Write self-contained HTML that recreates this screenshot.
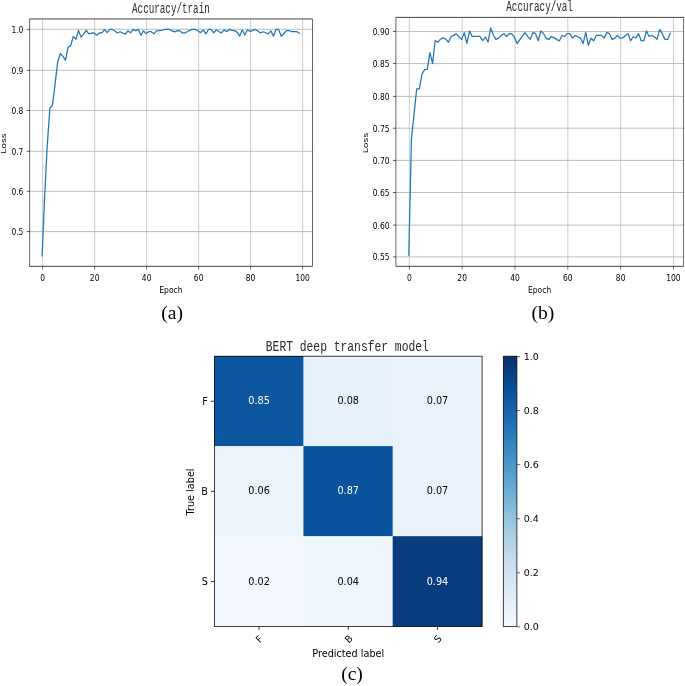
<!DOCTYPE html>
<html lang="en">
<head>
<meta charset="utf-8">
<title>Accuracy curves and BERT deep transfer model confusion matrix</title>
<style>
html,body{margin:0;padding:0;background:#fff;}
body{width:685px;height:686px;overflow:hidden;}
svg{display:block;}
.dv{font-family:"DejaVu Sans","Liberation Sans",sans-serif;}
.ttl{font-family:"Liberation Mono","DejaVu Sans Mono",monospace;fill:#2a2a2a;}
.cap{font-family:"Liberation Serif",serif;fill:#000;}
</style>
</head>
<body>
<svg width="685" height="686" viewBox="0 0 685 686">
<rect width="685" height="686" fill="#ffffff"/>
<g>
<path d="M42.65 18.95V266.35M94.64 18.95V266.35M146.63 18.95V266.35M198.62 18.95V266.35M250.61 18.95V266.35M302.60 18.95V266.35" stroke="#b0b0b0" stroke-width="0.65" fill="none"/>
<path d="M29.60 231.60H312.50M29.60 191.32H312.50M29.60 151.29H312.50M29.60 110.47H312.50M29.60 70.36H312.50M29.60 29.28H312.50" stroke="#b4b4b4" stroke-width="0.85" fill="none"/>
<polyline points="42.10,255.86 44.70,195.21 47.30,144.68 49.90,107.88 52.50,105.22 55.10,83.63 57.70,62.04 60.30,53.71 62.90,56.13 65.50,60.18 68.09,47.24 70.69,45.62 73.29,36.32 75.89,39.31 78.49,30.46 81.09,37.13 83.69,33.90 86.29,30.46 88.89,33.98 91.49,33.09 94.09,32.97 96.69,35.15 99.29,32.97 101.89,32.77 104.49,29.45 107.09,32.60 109.69,29.45 112.29,29.45 114.89,31.03 117.49,32.97 120.08,31.71 122.68,32.97 125.28,34.10 127.88,30.87 130.48,32.77 133.08,29.45 135.68,30.58 138.28,29.45 140.88,35.23 143.48,30.87 146.08,33.65 148.68,31.71 151.28,31.71 153.88,33.82 156.48,30.87 159.08,30.66 161.68,30.50 164.28,29.45 166.88,29.45 169.48,29.45 172.07,30.87 174.67,31.88 177.27,30.66 179.87,30.87 182.47,32.97 185.07,32.97 187.67,31.47 190.27,30.14 192.87,29.45 195.47,29.45 198.07,31.03 200.67,32.60 203.27,29.81 205.87,33.82 208.47,29.45 211.07,29.45 213.67,32.77 216.27,29.81 218.87,31.47 221.47,32.97 224.06,29.81 226.66,31.71 229.26,29.45 231.86,30.34 234.46,30.66 237.06,32.08 239.66,36.08 242.26,29.98 244.86,34.95 247.46,29.81 250.06,31.47 252.66,30.34 255.26,29.45 257.86,31.03 260.46,32.97 263.06,31.71 265.66,32.77 268.26,33.82 270.86,30.87 273.46,36.08 276.05,29.45 278.65,29.45 281.25,36.28 283.85,33.49 286.45,30.58 289.05,30.66 291.65,31.71 294.25,31.71 296.85,31.71 299.45,33.21" fill="none" stroke="#1f77b4" stroke-width="1.25" stroke-linejoin="round" stroke-linecap="square"/>
<path d="M42.65 266.35v3.3M94.64 266.35v3.3M146.63 266.35v3.3M198.62 266.35v3.3M250.61 266.35v3.3M302.60 266.35v3.3" stroke="#000" stroke-width="0.55" fill="none"/>
<path d="M29.60 231.60h-2.9M29.60 191.32h-2.9M29.60 151.29h-2.9M29.60 110.47h-2.9M29.60 70.36h-2.9M29.60 29.28h-2.9" stroke="#000" stroke-width="0.65" fill="none"/>
<path d="M29.60 18.95V266.35M312.50 18.95V266.35" stroke="#000" stroke-width="0.6" fill="none"/>
<path d="M29.60 18.95H312.50M29.60 266.35H312.50" stroke="#000" stroke-width="0.72" fill="none"/>
<text class="dv" font-size="9.33" text-anchor="middle" transform="translate(42.65,280.70) scale(0.810,1)">0</text>
<text class="dv" font-size="9.33" text-anchor="middle" transform="translate(94.64,280.70) scale(0.810,1)">20</text>
<text class="dv" font-size="9.33" text-anchor="middle" transform="translate(146.63,280.70) scale(0.810,1)">40</text>
<text class="dv" font-size="9.33" text-anchor="middle" transform="translate(198.62,280.70) scale(0.810,1)">60</text>
<text class="dv" font-size="9.33" text-anchor="middle" transform="translate(250.61,280.70) scale(0.810,1)">80</text>
<text class="dv" font-size="9.33" text-anchor="middle" transform="translate(302.60,280.70) scale(0.810,1)">100</text>
<text class="dv" font-size="9.33" text-anchor="end" transform="translate(23.40,235.05) scale(0.810,1)">0.5</text>
<text class="dv" font-size="9.33" text-anchor="end" transform="translate(23.40,194.77) scale(0.810,1)">0.6</text>
<text class="dv" font-size="9.33" text-anchor="end" transform="translate(23.40,154.74) scale(0.810,1)">0.7</text>
<text class="dv" font-size="9.33" text-anchor="end" transform="translate(23.40,113.92) scale(0.810,1)">0.8</text>
<text class="dv" font-size="9.33" text-anchor="end" transform="translate(23.40,73.81) scale(0.810,1)">0.9</text>
<text class="dv" font-size="9.33" text-anchor="end" transform="translate(23.40,32.73) scale(0.810,1)">1.0</text>
<text class="dv" font-size="9.33" text-anchor="middle" transform="translate(170.90,293.40) scale(0.810,1)">Epoch</text>
<text class="dv" font-size="9.33" text-anchor="middle" transform="translate(6.40,143.60) rotate(-90) scale(1,0.810)">Loss</text>
<text class="ttl" font-size="13.06" text-anchor="middle" transform="translate(170.90,12.50) scale(0.7082,1.05)">Accuracy/train</text>
<text class="cap" font-size="19.6" text-anchor="middle" x="172.20" y="318.60">(a)</text>
</g>
<g>
<path d="M409.35 17.40V266.35M462.17 17.40V266.35M514.99 17.40V266.35M567.81 17.40V266.35M620.63 17.40V266.35M673.45 17.40V266.35" stroke="#b0b0b0" stroke-width="0.65" fill="none"/>
<path d="M395.90 256.90H683.60M395.90 225.10H683.60M395.90 192.50H683.60M395.90 160.40H683.60M395.90 128.20H683.60M395.90 96.36H683.60M395.90 63.55H683.60M395.90 31.46H683.60" stroke="#b4b4b4" stroke-width="0.85" fill="none"/>
<polyline points="408.80,255.14 411.44,139.11 414.08,113.58 416.72,88.76 419.36,88.76 422.00,74.00 424.65,69.56 427.29,69.36 429.93,52.54 432.57,63.56 435.21,40.55 437.85,42.29 440.49,39.20 443.13,37.84 445.77,39.20 448.42,42.29 451.06,36.81 453.70,35.39 456.34,33.85 458.98,36.75 461.62,39.39 464.26,32.62 466.90,43.39 469.54,31.01 472.18,36.49 474.82,36.49 477.47,36.49 480.11,36.49 482.75,40.55 485.39,37.00 488.03,42.03 490.67,28.17 493.31,35.01 495.95,39.39 498.59,38.10 501.24,35.46 503.88,33.65 506.52,36.49 509.16,33.65 511.80,33.85 514.44,37.20 517.08,43.58 519.72,39.84 522.36,36.17 525.00,32.62 527.65,36.29 530.29,39.39 532.93,32.36 535.57,33.65 538.21,40.74 540.85,30.82 543.49,33.52 546.13,38.10 548.77,39.65 551.41,36.49 554.06,37.91 556.70,39.39 559.34,40.94 561.98,35.46 564.62,36.49 567.26,33.65 569.90,33.65 572.54,38.10 575.18,35.46 577.82,36.75 580.47,38.10 583.11,43.58 585.75,32.36 588.39,45.32 591.03,38.23 593.67,40.74 596.31,35.46 598.95,35.46 601.59,35.46 604.23,38.10 606.88,32.36 609.52,33.65 612.16,39.39 614.80,38.10 617.44,35.46 620.08,38.10 622.72,38.10 625.36,35.46 628.00,33.65 630.64,40.74 633.29,36.75 635.93,37.91 638.57,33.65 641.21,40.74 643.85,40.74 646.49,31.01 649.13,36.49 651.77,35.46 654.41,36.75 657.05,39.39 659.70,29.40 662.34,33.65 664.98,39.39 667.62,39.39 670.26,33.20" fill="none" stroke="#1f77b4" stroke-width="1.25" stroke-linejoin="round" stroke-linecap="square"/>
<path d="M409.35 266.35v3.3M462.17 266.35v3.3M514.99 266.35v3.3M567.81 266.35v3.3M620.63 266.35v3.3M673.45 266.35v3.3" stroke="#000" stroke-width="0.55" fill="none"/>
<path d="M395.90 256.90h-2.9M395.90 225.10h-2.9M395.90 192.50h-2.9M395.90 160.40h-2.9M395.90 128.20h-2.9M395.90 96.36h-2.9M395.90 63.55h-2.9M395.90 31.46h-2.9" stroke="#000" stroke-width="0.65" fill="none"/>
<path d="M395.90 17.40V266.35M683.60 17.40V266.35" stroke="#000" stroke-width="0.6" fill="none"/>
<path d="M395.90 17.40H683.60M395.90 266.35H683.60" stroke="#000" stroke-width="0.72" fill="none"/>
<text class="dv" font-size="9.33" text-anchor="middle" transform="translate(409.35,280.70) scale(0.810,1)">0</text>
<text class="dv" font-size="9.33" text-anchor="middle" transform="translate(462.17,280.70) scale(0.810,1)">20</text>
<text class="dv" font-size="9.33" text-anchor="middle" transform="translate(514.99,280.70) scale(0.810,1)">40</text>
<text class="dv" font-size="9.33" text-anchor="middle" transform="translate(567.81,280.70) scale(0.810,1)">60</text>
<text class="dv" font-size="9.33" text-anchor="middle" transform="translate(620.63,280.70) scale(0.810,1)">80</text>
<text class="dv" font-size="9.33" text-anchor="middle" transform="translate(673.45,280.70) scale(0.810,1)">100</text>
<text class="dv" font-size="9.33" text-anchor="end" transform="translate(389.60,260.35) scale(0.810,1)">0.55</text>
<text class="dv" font-size="9.33" text-anchor="end" transform="translate(389.60,228.55) scale(0.810,1)">0.60</text>
<text class="dv" font-size="9.33" text-anchor="end" transform="translate(389.60,195.95) scale(0.810,1)">0.65</text>
<text class="dv" font-size="9.33" text-anchor="end" transform="translate(389.60,163.85) scale(0.810,1)">0.70</text>
<text class="dv" font-size="9.33" text-anchor="end" transform="translate(389.60,131.65) scale(0.810,1)">0.75</text>
<text class="dv" font-size="9.33" text-anchor="end" transform="translate(389.60,99.81) scale(0.810,1)">0.80</text>
<text class="dv" font-size="9.33" text-anchor="end" transform="translate(389.60,67.00) scale(0.810,1)">0.85</text>
<text class="dv" font-size="9.33" text-anchor="end" transform="translate(389.60,34.91) scale(0.810,1)">0.90</text>
<text class="dv" font-size="9.33" text-anchor="middle" transform="translate(539.60,293.00) scale(0.810,1)">Epoch</text>
<text class="dv" font-size="9.33" text-anchor="middle" transform="translate(367.50,143.00) rotate(-90) scale(1,0.810)">Loss</text>
<text class="ttl" font-size="13.06" text-anchor="middle" transform="translate(539.60,10.80) scale(0.7082,1.05)">Accuracy/val</text>
<text class="cap" font-size="19.6" text-anchor="middle" x="542.90" y="318.50">(b)</text>
</g>
<g>
<rect x="214.20" y="356.00" width="89.63" height="90.50" fill="#0c56a0"/>
<rect x="303.43" y="356.00" width="89.63" height="90.50" fill="#e7f1fa"/>
<rect x="392.67" y="356.00" width="89.63" height="90.50" fill="#eaf2fb"/>
<rect x="214.20" y="446.10" width="89.63" height="90.50" fill="#ebf3fb"/>
<rect x="303.43" y="446.10" width="89.63" height="90.50" fill="#09529d"/>
<rect x="392.67" y="446.10" width="89.63" height="90.50" fill="#eaf2fb"/>
<rect x="214.20" y="536.20" width="89.63" height="90.50" fill="#f3f8fe"/>
<rect x="303.43" y="536.20" width="89.63" height="90.50" fill="#eff6fc"/>
<rect x="392.67" y="536.20" width="89.63" height="90.50" fill="#093c7e"/>
<text class="dv" font-size="9.7" text-anchor="middle" fill="#ffffff" x="259.02" y="404.30">0.85</text>
<text class="dv" font-size="9.7" text-anchor="middle" fill="#000000" x="348.25" y="404.30">0.08</text>
<text class="dv" font-size="9.7" text-anchor="middle" fill="#000000" x="437.48" y="404.30">0.07</text>
<text class="dv" font-size="9.7" text-anchor="middle" fill="#000000" x="259.02" y="494.40">0.06</text>
<text class="dv" font-size="9.7" text-anchor="middle" fill="#ffffff" x="348.25" y="494.40">0.87</text>
<text class="dv" font-size="9.7" text-anchor="middle" fill="#000000" x="437.48" y="494.40">0.07</text>
<text class="dv" font-size="9.7" text-anchor="middle" fill="#000000" x="259.02" y="584.50">0.02</text>
<text class="dv" font-size="9.7" text-anchor="middle" fill="#000000" x="348.25" y="584.50">0.04</text>
<text class="dv" font-size="9.7" text-anchor="middle" fill="#ffffff" x="437.48" y="584.50">0.94</text>
<rect x="214.40" y="356.20" width="267.70" height="270.30" fill="none" stroke="#000" stroke-width="0.75"/>
<path d="M214.40 401.25h-3.4M259.02 626.50v3.4M214.40 491.35h-3.4M348.25 626.50v3.4M214.40 581.45h-3.4M437.48 626.50v3.4" stroke="#000" stroke-width="0.8" fill="none"/>
<text class="dv" font-size="9.7" text-anchor="end" x="207.9" y="405.00">F</text>
<text class="dv" font-size="9.7" text-anchor="middle" transform="translate(259.32,638.90) rotate(-45)" y="3.55">F</text>
<text class="dv" font-size="9.7" text-anchor="end" x="207.9" y="495.10">B</text>
<text class="dv" font-size="9.7" text-anchor="middle" transform="translate(348.55,638.90) rotate(-45)" y="3.55">B</text>
<text class="dv" font-size="9.7" text-anchor="end" x="207.9" y="585.20">S</text>
<text class="dv" font-size="9.7" text-anchor="middle" transform="translate(437.78,638.90) rotate(-45)" y="3.55">S</text>
<text class="dv" font-size="9.7" text-anchor="middle" x="348.25" y="656.6">Predicted label</text>
<text class="dv" font-size="9.7" text-anchor="middle" transform="translate(194.0,492.0) rotate(-90)">True label</text>
<text class="ttl" font-size="13.60" text-anchor="middle" transform="translate(347.30,350.50) scale(0.8332,1.05)">BERT deep transfer model</text>
<defs><linearGradient id="cb" x1="0" y1="0" x2="0" y2="1"><stop offset="0.0000" stop-color="#08306b"/><stop offset="0.0312" stop-color="#083776"/><stop offset="0.0625" stop-color="#084082"/><stop offset="0.0938" stop-color="#08488e"/><stop offset="0.1250" stop-color="#08509b"/><stop offset="0.1562" stop-color="#0e58a2"/><stop offset="0.1875" stop-color="#1460a8"/><stop offset="0.2188" stop-color="#1a68ae"/><stop offset="0.2500" stop-color="#2070b4"/><stop offset="0.2812" stop-color="#2979b9"/><stop offset="0.3125" stop-color="#3181bd"/><stop offset="0.3438" stop-color="#3989c1"/><stop offset="0.3750" stop-color="#4191c6"/><stop offset="0.4062" stop-color="#4b98ca"/><stop offset="0.4375" stop-color="#56a0ce"/><stop offset="0.4688" stop-color="#60a7d2"/><stop offset="0.5000" stop-color="#6aaed6"/><stop offset="0.5312" stop-color="#77b5d9"/><stop offset="0.5625" stop-color="#84bcdb"/><stop offset="0.5938" stop-color="#91c3de"/><stop offset="0.6250" stop-color="#9dcae1"/><stop offset="0.6562" stop-color="#a8cee4"/><stop offset="0.6875" stop-color="#b2d2e8"/><stop offset="0.7188" stop-color="#bcd7eb"/><stop offset="0.7500" stop-color="#c6dbef"/><stop offset="0.7812" stop-color="#ccdff1"/><stop offset="0.8125" stop-color="#d2e3f3"/><stop offset="0.8438" stop-color="#d8e7f5"/><stop offset="0.8750" stop-color="#deebf7"/><stop offset="0.9062" stop-color="#e4eff9"/><stop offset="0.9375" stop-color="#eaf3fb"/><stop offset="0.9688" stop-color="#f1f7fd"/><stop offset="1.0000" stop-color="#f7fbff"/></linearGradient></defs>
<rect x="503.30" y="356.20" width="13.60" height="270.30" fill="url(#cb)" stroke="#000" stroke-width="0.75"/>
<text class="dv" font-size="9.5" x="523.8" y="630.45">0.0</text>
<text class="dv" font-size="9.5" x="523.8" y="576.39">0.2</text>
<text class="dv" font-size="9.5" x="523.8" y="522.33">0.4</text>
<text class="dv" font-size="9.5" x="523.8" y="468.27">0.6</text>
<text class="dv" font-size="9.5" x="523.8" y="414.21">0.8</text>
<text class="dv" font-size="9.5" x="523.8" y="360.15">1.0</text>
<path d="M516.90 626.85h3.2M516.90 572.79h3.2M516.90 518.73h3.2M516.90 464.67h3.2M516.90 410.61h3.2M516.90 356.55h3.2" stroke="#000" stroke-width="0.6" fill="none"/>
<text class="cap" font-size="19.6" text-anchor="middle" x="352.0" y="680.3">(c)</text>
</g>
</svg>
</body>
</html>
